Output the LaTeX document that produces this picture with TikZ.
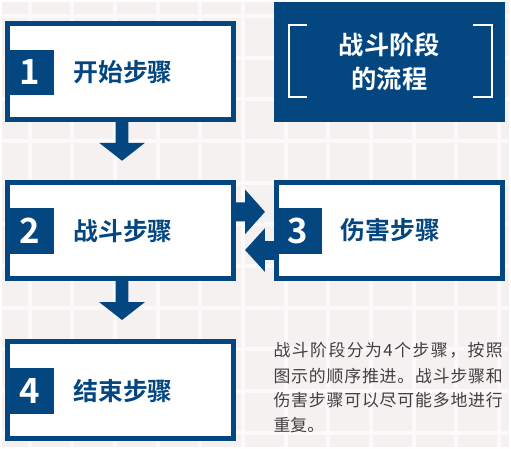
\documentclass[tikz,border=0pt]{standalone}
\usepackage{fontspec}
\usetikzlibrary{calc}
\newfontfamily\cjkr{Noto Sans CJK SC}
\newfontfamily\cjkb{Noto Sans CJK SC Bold}
\definecolor{stepblue}{RGB}{3,70,128}
\definecolor{tilebg}{RGB}{246,241,241}
\definecolor{tileline}{RGB}{251,249,249}
\definecolor{paratext}{RGB}{64,64,64}
\def\sprd#1{\ifx\relax#1\else#1\hfil\expandafter\sprd\fi}
\begin{document}
\begin{tikzpicture}[x=1pt,y=-1pt,
  stepbox/.style={draw=stepblue,line width=5pt,fill=white,minimum width=228pt,minimum height=97pt,inner sep=0pt,outer sep=0pt},
  numbox/.style={fill=stepblue,text=white,minimum width=49pt,minimum height=46pt,inner sep=0pt,font=\cjkb\fontsize{35}{35}\selectfont},
  steplabel/.style={text=stepblue,inner sep=0pt,font=\cjkb\fontsize{25}{25}\selectfont},
  titlebox/.style={fill=stepblue,text=white,minimum width=233pt,minimum height=121pt,inner sep=0pt,align=center,font=\cjkb\fontsize{25.5}{34}\selectfont},
  bracket/.style={draw=white,line width=2pt},
  blockarrow/.style={fill=stepblue},
  paraline/.style={text=paratext,inner sep=0pt,anchor=base west,font=\cjkr\fontsize{17}{17}\selectfont}]
% background
\fill[tilebg] (0,0) rectangle (511,448);
\foreach \x in {28,71,...,510} \draw[tileline,line width=4pt] (\x,0) -- (\x,448);
\foreach \y in {14,56,...,448} \draw[tileline,line width=4pt] (0,\y) -- (511,\y);
\useasboundingbox (0,0) rectangle (511,448);
% title
\node[titlebox] (t) at (390.5,60.5) {战斗阶段\\的流程};
\draw[bracket] (307,23) -- (289,23) -- (289,96) -- (307,96);
\draw[bracket] (475,23) -- (494,23) -- (494,96) -- (475,96);
% boxes
\node[stepbox] (b1) at (119.5,70) {};
\node[stepbox] (b2) at (119.5,230.5) {};
\node[stepbox] (b3) at (390.5,230.5) {};
\node[stepbox] (b4) at (119.5,391) {};
\node[numbox] (n1) at (27.5,71) {1};
\node[numbox] (n2) at (27.5,231) {2};
\node[numbox] (n3) at (298.5,231) {3};
\node[numbox] (n4) at (27.5,392) {4};
\node[steplabel] (l1) at (122,71) {开始步骤};
\node[steplabel] (l2) at (122,231) {战斗步骤};
\node[steplabel] (l3) at (391.5,230) {伤害步骤};
\node[steplabel] (l4) at (122,392) {结束步骤};
% arrows
\fill[blockarrow] ($(b1.south)+(-5,0)$) -- ++(0,23.5) -- ++(-16.5,0) -- ++(23,18) -- ++(23,-18) -- ++(-16.5,0) -- ++(0,-23.5) -- cycle;
\fill[blockarrow] ($(b2.south)+(-5,0)$) -- ++(0,23.5) -- ++(-16.5,0) -- ++(23,18) -- ++(23,-18) -- ++(-16.5,0) -- ++(0,-23.5) -- cycle;
\fill[blockarrow] ($(b2.east)+(0,-28.5)$) -- ++(11.5,0) -- ++(0,-13) -- ++(20,22.5) -- ++(-20,22.5) -- ++(0,-13) -- ++(-11.5,0) -- cycle;
\fill[blockarrow] ($(b3.west)+(0,10.5)$) -- ++(-11.5,0) -- ++(0,-13) -- ++(-20,22) -- ++(20,22) -- ++(0,-12) -- ++(11.5,0) -- cycle;
% paragraph
\node[paraline] (p1) at (273.5,357.5) {\hbox to 231pt{\sprd 战斗阶段分为4个步骤，按照\relax\unskip}};
\node[paraline] (p2) at (273.5,383.5) {\hbox to 231pt{\sprd 图示的顺序推进。战斗步骤和\relax\unskip}};
\node[paraline] (p3) at (273.5,407.5) {\hbox to 231pt{\sprd 伤害步骤可以尽可能多地进行\relax\unskip}};
\node[paraline] (p4) at (273.5,432.5) {重复。};
\end{tikzpicture}
\end{document}
